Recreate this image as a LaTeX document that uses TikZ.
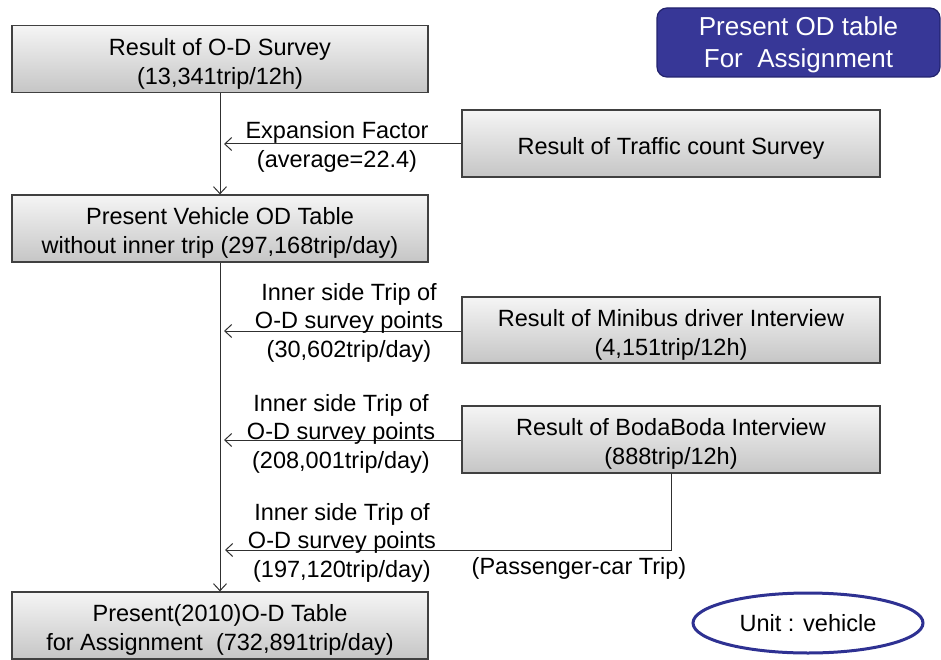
\documentclass[tikz,border=0pt]{standalone}
\usepackage{fontspec}
\setmainfont{Liberation Sans}
\usetikzlibrary{arrows.meta,shapes.geometric}
\definecolor{boxedge}{HTML}{404040}
\definecolor{linec}{HTML}{303030}
\definecolor{navy}{HTML}{373797}
\definecolor{navyedge}{HTML}{23236E}
\definecolor{ellc}{HTML}{2E3192}
\newcommand{\dnstrut}{\rule{0pt}{26pt}}
\begin{document}
\begin{tikzpicture}[x=1pt,y=-1pt,
  graybox/.style={draw=boxedge,line width=1.2pt,top color=gray!8,bottom color=gray!45,
    minimum width=416pt,minimum height=67pt,align=center,inner sep=0pt,
    font=\fontsize{23.5}{29}\selectfont},
  lbl/.style={align=center,inner sep=0pt,font=\fontsize{23.5}{28.5}\selectfont},
  arr/.style={draw=linec,line width=1pt,-{Straight Barb[length=7pt,width=13pt,line width=1pt]}}]
\useasboundingbox (0,0) rectangle (941,660);
% boxes
\node[graybox] (b1) at (220,59) {\dnstrut Result of O-D Survey\\(13,341trip/12h)};
\node[graybox] (b2) at (220,228.5) {\dnstrut Present Vehicle OD Table\\without inner trip (297,168trip/day)};
\node[graybox,minimum width=418pt] (tc) at (671,143.5) {\dnstrut Result of Traffic count Survey};
\node[graybox,minimum width=418pt,minimum height=66pt] (mb) at (671,330) {\dnstrut Result of Minibus driver Interview\\(4,151trip/12h)};
\node[graybox,minimum width=418pt] (bb) at (671,439.5) {\dnstrut Result of BodaBoda Interview\\(888trip/12h)};
\node[graybox,minimum height=67pt] (fin) at (220,625.5) {\dnstrut Present(2010)O-D Table\\for Assignment\ \ (732,891trip/day)};
% title box
\node[draw=navyedge,line width=1.2pt,fill=navy,rounded corners=10pt,text=white,
  minimum width=283pt,minimum height=69pt,align=center,inner sep=0pt,
  font=\fontsize{26}{32}\selectfont] (title) at (798.5,42.5) {\rule{0pt}{23pt}Present OD table\\For\ \ Assignment};
% unit ellipse
\node[ellipse,draw=ellc,line width=3pt,fill=white,minimum width=230pt,minimum height=60pt,
  inner sep=0pt,font=\fontsize{23.5}{28}\selectfont] (unit) at (808,623) {Unit : vehicle};
% end coordinates
\coordinate (e1) at (224,144);
\coordinate (e2) at (224,331);
\coordinate (e3) at (224,440);
\coordinate (e4) at (225,550);
\coordinate (c3) at (671,473);
% connectors
\draw[arr] (b1.south) -- (b2.north);
\draw[arr] (b2.south) -- (fin.north);
\draw[arr] (tc.west |- e1) -- (e1);
\draw[arr] (mb.west |- e2) -- (e2);
\draw[arr] (bb.west |- e3) -- (e3);
\draw[arr] (c3) |- (e4);
% labels
\node[lbl] (l1) at (337,147) {Expansion Factor\\(average=22.4)};
\node[lbl] (l2) at (349,322.5) {Inner side Trip of\\O-D survey points\\(30,602trip/day)};
\node[lbl] (l3) at (341,433.5) {Inner side Trip of\\O-D survey points\\(208,001trip/day)};
\node[lbl] (l4) at (342,542.5) {Inner side Trip of\\O-D survey points\\(197,120trip/day)};
\node[lbl] (l5) at (579,568) {(Passenger-car Trip)};
\end{tikzpicture}
\end{document}
